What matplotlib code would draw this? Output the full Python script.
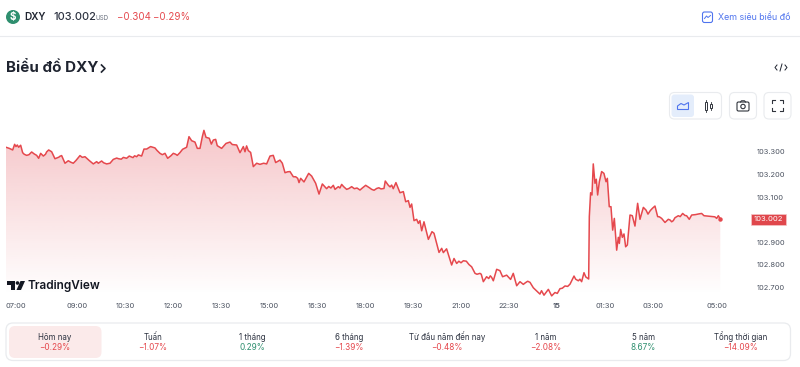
import numpy as np
import matplotlib
matplotlib.use("Agg")
import matplotlib.pyplot as plt
from matplotlib.patches import FancyBboxPatch, Circle, Rectangle, Polygon
from matplotlib.transforms import ScaledTranslation, blended_transform_factory

plt.rcParams['font.family'] = ['Inter', 'Noto Sans', 'DejaVu Sans']

# minutes after 07:00, price
t_morning = [-13.2,-6.9,-0.6,3.1,5.6,8.1,10.6,14.4,18.1,25.6,35,44.4,48.1,51.9,56.9,66.9,72.5,78.7,91.2,97.5,103.7,113,125.6,135,150.6,156.9,160,166.2,175.6,181.9,188,194.4,213,218,231.9,235,241.2,245.6,250.6,258,266.2,275.6,285,290,300.6,313,318,325.6,330,335,341.2,345.6,350.6,355,358,361.9,368,371.9,375.6,380,383,391.2,399.4,406.9,411.2,419.4,425.6,431.9,435,438,441.2,445.6,450.6,456.9,463]
p_morning = [103.321,103.316,103.309,103.334,103.324,103.331,103.321,103.330,103.297,103.285,103.300,103.285,103.272,103.294,103.282,103.309,103.301,103.270,103.284,103.250,103.261,103.250,103.284,103.279,103.247,103.257,103.250,103.260,103.247,103.250,103.267,103.273,103.272,103.282,103.279,103.287,103.282,103.313,103.313,103.324,103.318,103.294,103.294,103.272,103.294,103.297,103.312,103.321,103.368,103.350,103.344,103.316,103.316,103.368,103.396,103.365,103.361,103.335,103.353,103.356,103.328,103.316,103.338,103.344,103.333,103.331,103.297,103.324,103.301,103.327,103.306,103.298,103.235,103.250,103.245]
t_midday = [475.6,481.9,488,492.5,500.6,505,510,519.4,525.6,533.8,536.3,539.4,545.6,554.4,560,567.5,573.8,580,588,600.6,603.8,610,616.3,625.6,635,650.6,661.3,672.5,681.9,695.6,698,703.8,710,713,718,725.6,731.9,736.3,741.3,744.4,747.5,751.9,756.9,760,763,766.3,770.6,778.8,781.9,785.6,789.4,794.4,798.8,803.8,806.9,813,822.5,826.9,831.9,844.4,860,866.3,875.6,881.9,888,897.5,900.6,906.9]
p_midday = [103.247,103.282,103.285,103.253,103.264,103.250,103.208,103.213,103.190,103.183,103.164,103.183,103.167,103.205,103.193,103.161,103.113,103.158,103.137,103.152,103.134,103.146,103.156,103.134,103.146,103.131,103.152,103.134,103.138,103.138,103.171,103.152,103.153,103.137,103.164,103.119,103.124,103.079,103.084,103.054,103.069,102.995,103.001,102.983,102.995,102.950,102.990,102.912,102.927,102.946,102.939,102.894,102.854,102.872,102.853,102.870,102.798,102.827,102.805,102.817,102.790,102.761,102.761,102.724,102.746,102.743,102.728,102.779]
t_evening = [913,918,925.6,933,938,944.4,950.6,956.9,969.4,975.6,988,991,995.6,1003.8,1010,1016.2,1020.6,1025.6,1044.4,1051.9,1060,1066.2,1070.6,1079.4,1080.6,1083,1085.6,1088,1091.2,1093.7,1096.2,1099.4,1103.7,1108,1111.9,1114.4,1118,1121.2,1124.4,1127.5,1131.9,1135,1136.9,1139.4,1142.5,1145.6,1148.7,1151.9,1156.9,1161.2,1166.2,1171.2,1175.6,1181.9,1186.9,1190.6,1203.7,1208.7,1216.2,1222.5,1228.7,1235,1241.2,1247.5,1255.6,1263,1268,1272.5,1291.2,1295.6,1313,1319.4,1322.5,1326.2]
p_evening = [102.773,102.746,102.753,102.734,102.761,102.706,102.724,102.712,102.721,102.697,102.669,102.684,102.664,102.690,102.661,102.676,102.672,102.693,102.713,102.749,102.728,102.724,102.764,102.736,103.013,103.119,103.109,103.247,103.161,103.179,103.109,103.168,103.213,103.205,103.168,103.183,103.057,103.057,102.953,103.005,102.864,102.921,102.894,102.956,102.921,102.936,102.879,102.887,103.020,103.017,102.971,103.072,103.001,103.054,103.042,103.024,103.060,103.013,103.005,102.987,103.001,102.990,103.008,103.017,103.027,103.017,103.001,103.020,103.027,103.017,103.013,103.005,103.017,103.002]
t_detail = [21,30,40,61,63,86,88,108,118,130,143,170,198,203,207,225,228,270,280,296,305,308,470,515,530,592,596,613,620,630,640,645,655,666,669,677,686,690,707,836,840,850,855,870,878,885,892,895,960,965,981,1030,1035,1040,1048,1055,1063,1074,1195,1199,1212,1226,1232,1238,1251,1260,1280,1286,1300,1307,1316]
p_detail = [103.290,103.288,103.291,103.290,103.300,103.277,103.281,103.255,103.262,103.276,103.262,103.252,103.270,103.268,103.276,103.275,103.283,103.307,103.288,103.283,103.290,103.285,103.250,103.212,103.190,103.147,103.140,103.140,103.146,103.138,103.137,103.140,103.140,103.145,103.140,103.130,103.141,103.136,103.145,102.815,102.808,102.815,102.800,102.757,102.757,102.735,102.738,102.750,102.718,102.726,102.685,102.695,102.705,102.703,102.730,102.735,102.735,102.745,103.040,103.050,103.012,102.995,102.998,102.995,103.013,103.018,103.022,103.025,103.016,103.014,103.012]

x_ticks = [0,120,210,300,390,480,570,660,750,840,930,1020,1110,1200,1320]
x_labels = ['07:00','09:00','10:30','12:00','13:30','15:00','16:30','18:00','19:30','21:00','22:30','15','01:30','03:00','05:00']
y_ticks = [102.7,102.8,102.9,103.1,103.2,103.3]
last_price = 103.002
periods = ['Hôm nay','Tuấn','1 tháng','6 tháng','Từ đầu năm đến nay','1 năm','5 năm','Tổng thời gian']
changes = ['−0.29%','−1.07%','0.29%','−1.39%','−0.48%','−2.08%','8.67%','−14.09%']
period_x = [55,153,252,349,447,546,643,741]

RED='#e5484d'; GREEN='#2f8f6f'; INK='#1f2430'; GRAY='#6b7280'; BLUE='#4f74ee'; LINE='#e9ebee'
W,H=800,367
fig=plt.figure(figsize=(8,3.67),dpi=100,facecolor='white')
bg=fig.add_axes([0,0,1,1]); bg.set_xlim(0,W); bg.set_ylim(H,0); bg.axis('off')

def box(x0,y0,x1,y1,r,fc='none',ec='none',lw=1,z=1):
    bg.add_patch(FancyBboxPatch((x0+r,y0+r),x1-x0-2*r,y1-y0-2*r,boxstyle=f'round,pad={r},rounding_size={r}',fc=fc,ec=ec,lw=lw,zorder=z))

# header
bg.plot([0,800],[35.5,35.5],color=LINE,lw=0.8)
bg.add_patch(Circle((13,17),7,fc=GREEN,ec='none'))
bg.text(13,17.2,'$',color='white',fontsize=7,fontweight='bold',ha='center',va='center')
bg.text(24.5,17,'DXY',color=INK,fontsize=7.2,fontweight='semibold',va='center')
bg.text(53,17,'103.002',color='#2c3240',fontsize=7.9,fontweight='medium',va='center')
bg.text(96,18,'USD',color=GRAY,fontsize=4.5,va='center')
bg.text(116.5,17,'−0.304',color=RED,fontsize=7,va='center')
bg.text(153.5,17,'−0.29%',color=RED,fontsize=7,va='center')
box(702.5,12,712.5,22.5,2,ec=BLUE,lw=0.8)
bg.plot([704.5,706.5,708,710.5],[18.5,16,17.5,15.5],color=BLUE,lw=0.7)
bg.text(718,17,'Xem siêu biểu đồ',color=BLUE,fontsize=6.4,va='center')
bg.text(6,68,'Biểu đồ DXY',color=INK,fontsize=10.9,fontweight='bold',va='center')
bg.plot([101.5,105,101.5],[65,68.5,72],color=INK,lw=1.2)
# toolbar
bg.plot([777,775,777],[65,67.5,70],color=INK,lw=0.7)
bg.plot([785,787,785],[65,67.5,70],color=INK,lw=0.7)
bg.plot([780,782],[71,64],color=INK,lw=0.7)
box(669.5,92.5,721.5,119,5,fc='white',ec=LINE,lw=0.8)
box(671.5,94.5,694,117,3,fc='#e4edfb')
box(729.5,92.5,756.5,119,5,fc='white',ec=LINE,lw=0.8)
box(764,92.5,791,119,5,fc='white',ec=LINE,lw=0.8)
bg.add_patch(Polygon([(677.5,109.5),(677.5,106),(681,103.5),(684,105),(688.5,102.5),(688.5,109.5)],closed=True,fc='none',ec=BLUE,lw=0.8,zorder=3))
for x,a,b in [(706,100,112),(711,102,110)]:
    bg.plot([x,x],[a,b],color='#30343c',lw=0.6,zorder=3)
    bg.add_patch(Rectangle((x-1.2,a+2),2.4,b-a-4,fc='white',ec='#30343c',lw=0.7,zorder=4))
box(737,102,749,111,1.5,ec='#30343c',lw=0.8,z=3)
bg.add_patch(Circle((743,106.5),2.2,fc='none',ec='#30343c',lw=0.8,zorder=3))
bg.plot([740.5,741.5,744.5,745.5],[102,100.8,100.8,102],color='#30343c',lw=0.8,zorder=3)
for sx,sy in [(-1,-1),(1,-1),(-1,1),(1,1)]:
    cx,cy=777.5+sx*5.5,105.5+sy*5.5
    bg.plot([cx,cx,cx-sx*3],[cy-sy*3,cy,cy],color='#30343c',lw=0.8,zorder=3)

# period card
box(6,323,790.5,360.5,7,fc='white',ec=LINE,lw=0.9)
box(9,326,101.5,358,6,fc='#fbeaea')
for x,l,c in zip(period_x,periods,changes):
    col=GREEN if not c.startswith('−') else RED
    bg.text(x,337,l,color='#2c3240',fontsize=5.7,ha='center',va='center')
    bg.text(x,347.5,c,color=col,fontsize=5.9,ha='center',va='center')

# chart
x0,x1,ytop,ybot=6,757,120,297
ax=fig.add_axes([x0/W,1-ybot/H,(x1-x0)/W,(ybot-ytop)/H])
ax.patch.set_alpha(0)
t=np.array(t_morning+t_midday+t_evening+t_detail); p=np.array(p_morning+p_midday+p_evening+p_detail)
order=np.argsort(t); t=t[order]; p=p[order]
poly=ax.fill_between(t,p,102.64,color='none',lw=0)
grad=np.zeros((256,1,4)); grad[...,:3]=np.array([224,60,70])/255
grad[...,3]=np.linspace(0.30,0,256)[:,None]
im=ax.imshow(grad,extent=[-13.1,1395,102.665,103.42],origin='upper',aspect='auto',zorder=1,interpolation='bilinear')
ax.set_xlim(-13.1,1395); ax.set_ylim(102.656,103.442)
im.set_clip_path(poly.get_paths()[0],transform=ax.transData)
ax.plot(t,p,color=RED,lw=1.1,solid_joinstyle='round',zorder=2)
for s in ax.spines.values(): s.set_visible(False)
ax.set_xticks(x_ticks); ax.set_xticklabels(x_labels)
ax.yaxis.tick_right(); ax.set_yticks(y_ticks); ax.set_yticklabels([f'{v:.3f}' for v in y_ticks])
ax.tick_params(axis='both',length=0,labelsize=5.4,labelcolor='#4b5260')
ax.tick_params(axis='x',pad=4.3); ax.tick_params(axis='y',pad=0)
lbls=ax.get_xticklabels()
lbls[0].set_transform(lbls[0].get_transform()+ScaledTranslation(2/72,0,fig.dpi_scale_trans))
lbls[11].set_fontweight('semibold')
tr=blended_transform_factory(bg.transData,ax.transData)
ax.text(768.5,last_price,f'{last_price:.3f}',transform=tr,color='white',fontsize=5.5,ha='center',va='center',clip_on=False,
        bbox=dict(boxstyle='square,pad=0.32',fc='#e0474c',ec='#f4c6c8',lw=0.5),zorder=5)
ax.plot([t[-1]],[p[-1]],'o',ms=2.2,color=RED,zorder=3)

# TradingView wordmark
bg2=fig.add_axes([0,0,1,1]); bg2.set_xlim(0,W); bg2.set_ylim(H,0); bg2.axis('off'); bg2.patch.set_alpha(0)
bg2.add_patch(Polygon([(7,281),(15,281),(15,290),(11,290),(11,285),(7,285)],fc='#131722',ec='none'))
bg2.add_patch(Circle((17.5,283),1.8,fc='#131722',ec='none'))
bg2.add_patch(Polygon([(20.5,281),(25,281),(21,290),(16.5,290)],fc='#131722',ec='none'))
bg2.text(28,285.5,'TradingView',color='#131722',fontsize=8.5,fontweight='semibold',va='center')
fig.savefig('out.png',dpi=100)
